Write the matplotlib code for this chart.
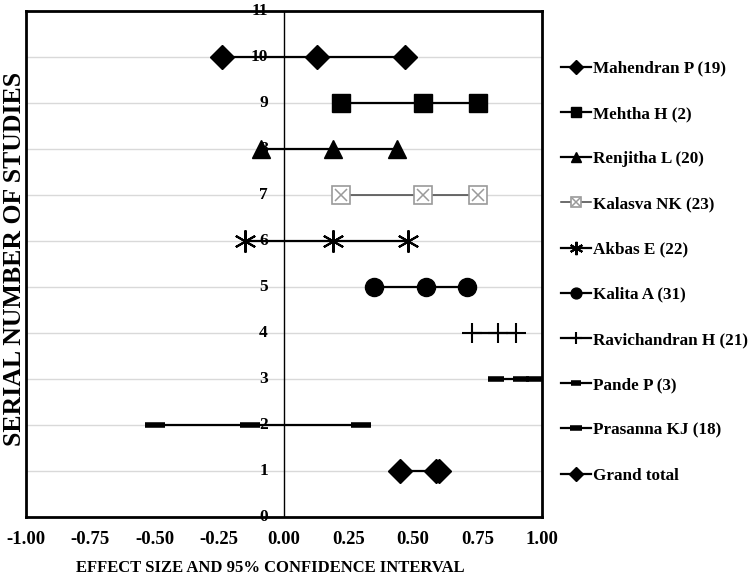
import matplotlib
matplotlib.use("Agg")
import matplotlib.pyplot as plt
from matplotlib.legend_handler import HandlerTuple

plt.rcParams['font.family'] = ['Liberation Serif', 'DejaVu Serif']
plt.rcParams['font.weight'] = 'bold'

# données (borne basse, effet, borne haute)
etudes = ["Mahendran P (19)", "Mehtha H (2)", "Renjitha L (20)", "Kalasva NK (23)",
          "Akbas E (22)", "Kalita A (31)", "Ravichandran H (21)", "Pande P (3)",
          "Prasanna KJ (18)", "Grand total"]
rangs = [10, 9, 8, 7, 6, 5, 4, 3, 2, 1]
mahendran = [-0.24, 0.13, 0.47]
mehtha = [0.22, 0.54, 0.75]
renjitha = [-0.09, 0.19, 0.44]
kalasva = [0.22, 0.54, 0.75]
akbas = [-0.15, 0.19, 0.48]
kalita = [0.35, 0.55, 0.71]
ravichandran = [0.73, 0.83, 0.90]
pande = [0.82, 0.92, 0.97]
prasanna = [-0.50, -0.13, 0.30]
total = [0.45, 0.59, 0.60]
valeurs = [mahendran, mehtha, renjitha, kalasva, akbas, kalita,
           ravichandran, pande, prasanna, total]

styles = [
    dict(marker='D', ms=12, color='black', lw=1.6),
    dict(marker='s', ms=13, color='black', lw=1.6),
    dict(marker='^', ms=13, color='black', lw=1.6),
    dict(marker='s', ms=13, color='#444444', lw=1.1, mec='#9a9a9a',
         mfc='white', mew=1.2),
    dict(marker=(6, 2, 0), ms=16, color='black', lw=1.6, mew=1.5),
    dict(marker='o', ms=13, color='black', lw=1.6),
    dict(marker='+', ms=15, color='black', lw=1.6, mew=1.5),
    dict(marker='_', ms=12, color='black', lw=1.6, mew=4),
    dict(marker='_', ms=14, color='black', lw=1.6, mew=4),
    dict(marker='D', ms=12, color='black', lw=1.6),
]

fig = plt.figure(figsize=(7.56, 5.75), dpi=100)
ax = fig.add_axes([0.034, 0.101, 0.683, 0.880])

for y in range(1, 11):
    ax.axhline(y, color='#d9d9d9', lw=1, zorder=0)
ax.axvline(0, color='black', lw=1, zorder=1)

poignees = []
for nom, r, v, st in zip(etudes, rangs, valeurs, styles):
    ligne, = ax.plot(v, [r] * len(v), zorder=3, **st)
    if nom.startswith("Kalasva"):
        # croix grise dans le carré
        croix, = ax.plot(v, [r] * len(v), ls='none', marker='x', ms=9,
                         mec='#9a9a9a', mew=1.1, zorder=4)
        poignees.append((ligne, croix))
    else:
        poignees.append(ligne)

ax.set_xlim(-1, 1)
ax.set_ylim(0, 11)
ax.set_xticks([-1, -0.75, -0.5, -0.25, 0, 0.25, 0.5, 0.75, 1])
ax.set_xticklabels(["%.2f" % t for t in ax.get_xticks()], fontsize=13.5, fontweight='bold')
ax.tick_params(axis='x', length=0, pad=10)
ax.set_yticks([])
for y in range(0, 12):
    ax.text(-0.062, y, str(y), ha='right', va='center', fontsize=12.5,
            fontweight='bold', zorder=2)
for s in ax.spines.values():
    s.set_linewidth(2)

ax.set_xlabel("EFFECT SIZE AND 95% CONFIDENCE INTERVAL", fontsize=12,
              fontweight='bold')
ax.xaxis.set_label_coords(0.473, -0.086)
fig.text(0.019, 0.549, "SERIAL NUMBER OF STUDIES", rotation=90, ha='center',
         va='center', fontsize=18.5, fontweight='bold')

ax.legend(poignees, etudes, loc='upper left', bbox_to_anchor=(1.023, 0.915),
          frameon=False, fontsize=12.3, handlelength=1.75, handletextpad=0.15,
          labelspacing=1.71, markerscale=0.6, borderaxespad=0,
          handler_map={tuple: HandlerTuple(ndivide=1, pad=0)})

fig.savefig("out.png", dpi=100)
